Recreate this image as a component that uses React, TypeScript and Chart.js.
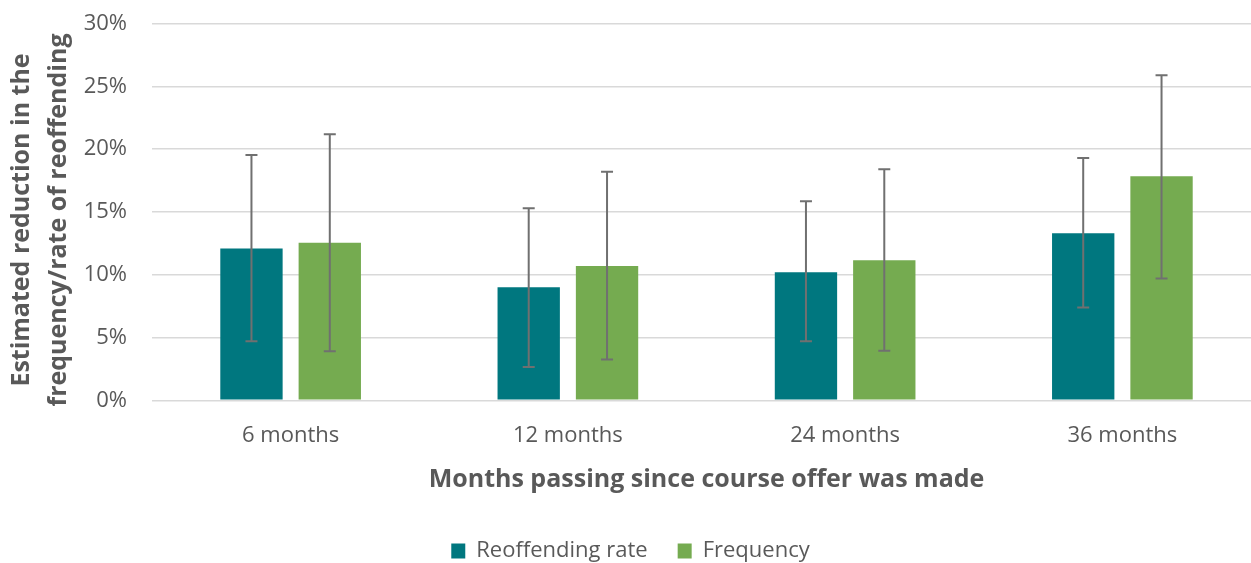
import React, { useEffect, useRef } from "react";
import { Chart, registerables } from "chart.js";

Chart.register(...registerables);

const categories = ["6 months", "12 months", "24 months", "36 months"];
const reoffendingRate = [12.1, 9.0, 10.2, 13.3];
const reoffendingLower = [4.7, 2.65, 4.7, 7.4];
const reoffendingUpper = [19.55, 15.3, 15.85, 19.3];
const frequency = [12.55, 10.7, 11.15, 17.85];
const frequencyLower = [3.9, 3.25, 3.95, 9.7];
const frequencyUpper = [21.2, 18.2, 18.4, 25.9];
const yTickValues = [0, 5, 10, 15, 20, 25, 30];

const seriesNames = ["Reoffending rate", "Frequency"];
const xTitle = "Months passing since course offer was made";
const yTitle = ["Estimated reduction in the", "frequency/rate of reoffending"];

const TEXT = "#595959";
const FONT = "'Open Sans', 'Noto Sans', sans-serif";

const errorRanges = [
  [reoffendingLower, reoffendingUpper],
  [frequencyLower, frequencyUpper],
];

const errorBarPlugin = {
  id: "errorBars",
  afterDatasetsDraw(chart: any) {
    const { ctx } = chart;
    const y = chart.scales.y;
    ctx.save();
    ctx.strokeStyle = "#707070";
    ctx.lineWidth = 2;
    chart.data.datasets.forEach((_ds: any, di: number) => {
      const meta = chart.getDatasetMeta(di);
      meta.data.forEach((bar: any, i: number) => {
        const x = bar.x;
        const yTop = y.getPixelForValue(errorRanges[di][1][i]);
        const yBot = y.getPixelForValue(errorRanges[di][0][i]);
        const cap = 6;
        ctx.beginPath();
        ctx.moveTo(x, yTop);
        ctx.lineTo(x, yBot);
        ctx.moveTo(x - cap, yTop);
        ctx.lineTo(x + cap, yTop);
        ctx.moveTo(x - cap, yBot);
        ctx.lineTo(x + cap, yBot);
        ctx.stroke();
      });
    });
    ctx.restore();
  },
};

export default function App() {
  const canvasRef = useRef<HTMLCanvasElement | null>(null);

  useEffect(() => {
    if (!canvasRef.current) return;
    Chart.defaults.font.family = FONT;
    const chart = new Chart(canvasRef.current, {
      type: "bar",
      data: {
        labels: categories,
        datasets: [
          {
            label: seriesNames[0],
            data: reoffendingRate,
            backgroundColor: "#00777F",
            borderWidth: 0,
            categoryPercentage: 0.565,
            barPercentage: 0.796,
          },
          {
            label: seriesNames[1],
            data: frequency,
            backgroundColor: "#75AB50",
            borderWidth: 0,
            categoryPercentage: 0.565,
            barPercentage: 0.796,
          },
        ],
      },
      options: {
        animation: false,
        responsive: false,
        maintainAspectRatio: false,
        layout: { padding: { top: 23.7, right: 1, left: 0, bottom: 0 } },
        plugins: {
          tooltip: { enabled: false },
          legend: {
            position: "bottom",
            labels: {
              boxWidth: 14,
              boxHeight: 15,
              padding: 30,
              color: TEXT,
              font: { size: 22, family: FONT },
            },
          },
        },
        scales: {
          x: {
            grid: { display: false, drawTicks: false },
            border: { display: false },
            ticks: {
              color: TEXT,
              font: { size: 22, family: FONT },
              padding: 22.5,
            },
            title: {
              display: true,
              text: xTitle,
              color: TEXT,
              font: { size: 25, weight: "bold", family: FONT },
              padding: { top: 0, bottom: 15 },
            },
            afterFit: (s: any) => {
              s.height = 109.7;
              s.paddingTop = 0;
              s.paddingBottom = 0;
            },
          },
          y: {
            min: 0,
            max: 30,
            afterBuildTicks: (s: any) => {
              s.ticks = yTickValues.map((v) => ({ value: v }));
            },
            grid: { color: "#D9D9D9", lineWidth: 1.5, drawTicks: false },
            border: { display: false },
            ticks: {
              color: TEXT,
              font: { size: 22, family: FONT },
              padding: 25,
              callback: (v: any) => `${v}%`,
            },
            title: {
              display: true,
              text: yTitle,
              color: TEXT,
              font: { size: 25, weight: "bold", family: FONT, lineHeight: 1.45 },
              padding: { top: 4, bottom: 0 },
            },
            afterFit: (s: any) => {
              s.width = 152;
              s.paddingTop = 0;
              s.paddingBottom = 0;
              if (!s.__titleShifted) {
                s.__titleShifted = true;
                const orig = s.drawTitle;
                s.drawTitle = function (...args: any[]) {
                  const c = this.ctx;
                  c.save();
                  c.translate(0, 8);
                  orig.apply(this, args);
                  c.restore();
                };
              }
            },
          },
        },
      },
      plugins: [errorBarPlugin],
    });
    return () => chart.destroy();
  }, []);

  return (
    <div style={{ position: "fixed", left: 0, top: 0, width: 1262, height: 572, background: "#fff" }}>
      <canvas ref={canvasRef} width={1262} height={572} style={{ display: "block" }} />
    </div>
  );
}
